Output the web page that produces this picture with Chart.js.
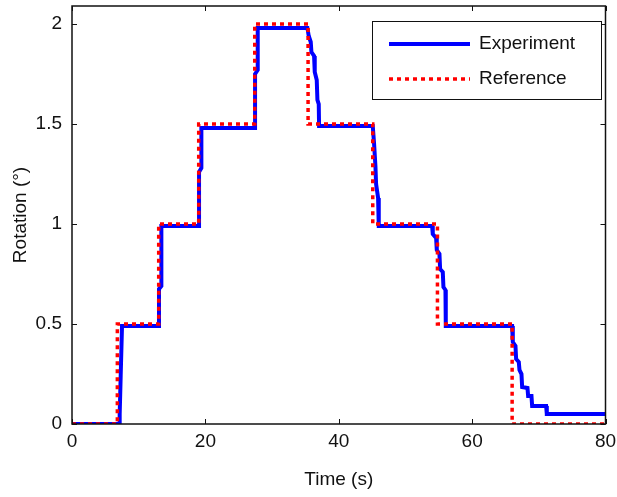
<!DOCTYPE html>
<html>
<head>
<meta charset="utf-8">
<script src="https://cdn.jsdelivr.net/npm/chart.js@4"></script>
<style>
  html, body { margin: 0; padding: 0; background: #fff; }
  #wrap { width: 617px; height: 497px; }
</style>
</head>
<body>
<div id="wrap"><canvas id="rotchart" width="617" height="497"></canvas></div>
<script>
// reference command: step times (s) and levels (deg)
const refTime = [0, 6.8, 13.0, 19.0, 27.4, 35.4, 45.1, 54.8, 66.0, 80];
const refRot  = [0, 0.5, 1.0, 1.5, 2.0, 1.5, 1.0, 0.5, 0, 0];

const expTime = [0, 7.05, 7.15, 7.3, 7.5,
  13.05, 13.05, 13.4, 13.4,
  19.05, 19.05, 19.4, 19.4,
  27.45, 27.45, 27.85, 27.85,
  35.3, 35.5, 35.8, 35.9, 36.3, 36.4, 36.7, 36.8, 37.0, 37.05,
  45.1, 45.3, 45.5, 45.6, 45.9, 46.0,
  54.0, 54.1, 54.6, 54.7, 55.1, 55.2, 55.6, 55.7, 56.0, 56.05,
  66.0, 66.1, 66.5, 66.6, 67.0, 67.1, 67.4, 67.5, 68.3, 68.4, 68.9, 69.0, 71.1, 71.2, 80];
const expRot = [0, 0, 0.05, 0.24, 0.49,
  0.49, 0.675, 0.69, 0.99,
  0.99, 1.26, 1.28, 1.48,
  1.48, 1.75, 1.77, 1.98,
  1.98, 1.94, 1.91, 1.86, 1.84, 1.76, 1.72, 1.62, 1.6, 1.49,
  1.49, 1.4, 1.29, 1.2, 1.13, 0.99,
  0.99, 0.95, 0.93, 0.87, 0.85, 0.775, 0.76, 0.685, 0.67, 0.49,
  0.49, 0.41, 0.39, 0.325, 0.31, 0.27, 0.25, 0.185, 0.18, 0.14, 0.14, 0.09, 0.09, 0.05, 0.05];

const xTicks = [0, 20, 40, 60, 80];
const yTicks = [0, 0.5, 1, 1.5, 2];

const FONT = 'Liberation Sans, Arial, Helvetica, sans-serif';
const INK = '#111';

const toPts = (xs, ys) => xs.map((x, i) => ({ x: x, y: ys[i] }));

// matlab style box with inward ticks + legend inside the axes
const boxPlugin = {
  id: 'box',
  afterDraw(chart) {
    const { ctx, chartArea: a, scales } = chart;
    const xs = scales.x, ys = scales.y;
    const tl = 5;
    ctx.save();
    ctx.strokeStyle = INK;
    ctx.lineWidth = 1.5;
    ctx.strokeRect(a.left, a.top, a.right - a.left, a.bottom - a.top);
    ctx.lineWidth = 1;
    ctx.beginPath();
    xTicks.forEach(v => {
      const px = Math.round(xs.getPixelForValue(v)) + 0.5;
      ctx.moveTo(px, a.bottom); ctx.lineTo(px, a.bottom - tl);
      ctx.moveTo(px, a.top); ctx.lineTo(px, a.top + tl);
    });
    yTicks.forEach(v => {
      const py = Math.round(ys.getPixelForValue(v)) + 0.5;
      ctx.moveTo(a.left, py); ctx.lineTo(a.left + tl, py);
      ctx.moveTo(a.right, py); ctx.lineTo(a.right - tl, py);
    });
    ctx.stroke();

    // legend
    const lx = 372, ly = 21, lw = 229, lh = 78;
    ctx.fillStyle = '#fff';
    ctx.fillRect(lx, ly, lw, lh);
    ctx.strokeStyle = INK;
    ctx.lineWidth = 1;
    ctx.strokeRect(lx + 0.5, ly + 0.5, lw, lh);
    const rows = [44, 79];
    chart.data.datasets.slice().reverse().forEach((ds, i) => {
      const y = rows[i];
      ctx.strokeStyle = ds.borderColor;
      ctx.lineWidth = ds.borderWidth;
      ctx.setLineDash(ds.borderDash || []);
      ctx.beginPath();
      ctx.moveTo(389, y); ctx.lineTo(470, y);
      ctx.stroke();
      ctx.setLineDash([]);
      ctx.fillStyle = INK;
      ctx.font = '19px ' + FONT;
      ctx.textBaseline = 'middle';
      ctx.textAlign = 'left';
      ctx.fillText(ds.label, 479, y);
    });
    ctx.restore();
  }
};

new Chart(document.getElementById('rotchart'), {
  type: 'scatter',
  data: {
    datasets: [
      {
        label: 'Reference',
        data: toPts(refTime, refRot),
        showLine: true,
        stepped: 'before',
        borderColor: '#ff0000',
        borderWidth: 3.5,
        borderDash: [4, 4],
        pointRadius: 0,
        order: 0
      },
      {
        label: 'Experiment',
        data: toPts(expTime, expRot),
        showLine: true,
        borderColor: '#0000ff',
        borderWidth: 4,
        pointRadius: 0,
        order: 1
      }
    ]
  },
  options: {
    responsive: false,
    animation: false,
    layout: { padding: { top: 6, right: 11.5, left: 0, bottom: 0 } },
    plugins: { legend: { display: false }, tooltip: { enabled: false } },
    scales: {
      x: {
        type: 'linear',
        min: 0, max: 80,
        afterBuildTicks: s => { s.ticks = xTicks.map(v => ({ value: v })); },
        afterFit: s => { s.height = 73; s.paddingLeft = 0; s.paddingRight = 0; },
        grid: { display: false, drawTicks: false },
        border: { display: false },
        ticks: { color: INK, padding: 6, maxRotation: 0, callback: v => String(v), font: { family: FONT, size: 19 } },
        title: { display: true, text: 'Time (s)', color: INK, padding: { top: 0, bottom: 6 }, font: { family: FONT, size: 19 } }
      },
      y: {
        type: 'linear',
        min: 0, max: 2.09,
        afterBuildTicks: s => { s.ticks = yTicks.map(v => ({ value: v })); },
        afterFit: s => { s.width = 72; s.paddingTop = 0; s.paddingBottom = 0; },
        grid: { display: false, drawTicks: false },
        border: { display: false },
        ticks: { color: INK, padding: 10, callback: v => String(v), font: { family: FONT, size: 19 } },
        title: { display: true, text: 'Rotation (°)', color: INK, padding: { top: 9, bottom: 0 }, font: { family: FONT, size: 19 } }
      }
    }
  },
  plugins: [boxPlugin]
});
</script>
</body>
</html>
